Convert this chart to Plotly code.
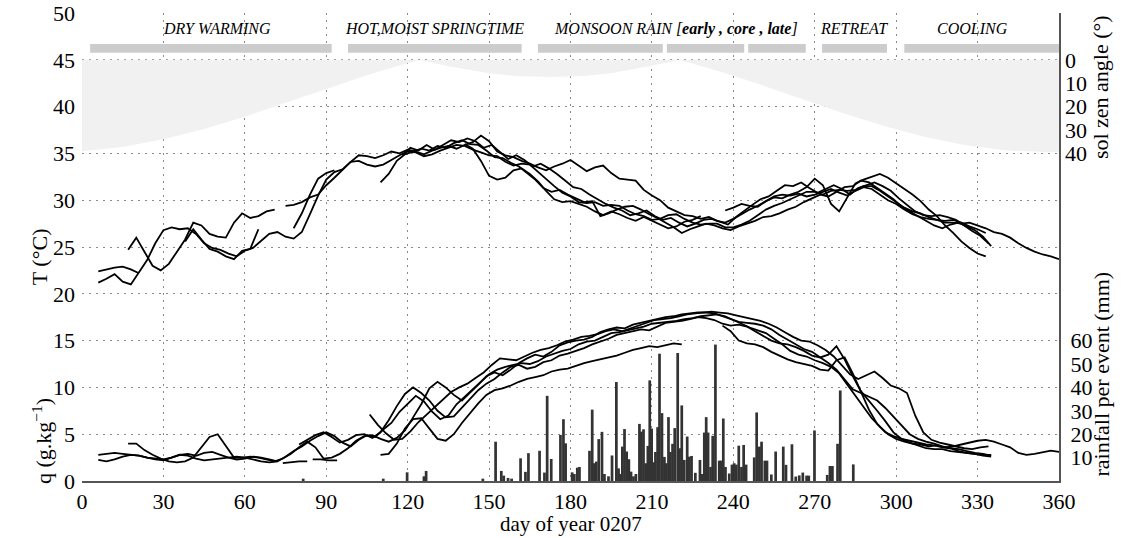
import plotly.graph_objects as go

STEP = 3  # sampling step (days) of the smoothed T and q records

# ---------------- temperature records (deg C), one value every 3 days ----------------
t1_start = 6
t1 = [21.2, 21.6, 22.1, 21.3, 21.0, 22.3, 23.6, 25.4, 26.8, 27.1, 26.9, 27.0, 26.4, 25.4, 24.9, 24.7,
      24.3, 24.0, 24.6, 24.9, 25.7, 26.4, 26.6, 26.1, 25.9, 26.6, 28.5, 30.5, 32.2, 33.0, 33.3, 34.1,
      34.2, 33.8, 33.6, 33.8, 34.3, 34.8, 35.2, 35.1, 34.7, 34.9, 35.3, 35.6, 35.9, 35.8, 35.4, 35.1,
      34.8, 34.7, 34.1, 33.7, 33.9, 33.8, 33.0, 32.3, 31.5, 30.8, 30.4, 29.8, 29.7, 29.8, 29.4, 29.5,
      29.4, 28.9, 28.5, 28.3, 27.9, 28.0, 28.4, 28.5, 28.0, 27.6, 27.4, 27.5, 27.5, 27.1, 27.1, 27.4,
      27.8, 28.4, 29.0, 29.4, 29.7, 30.1, 30.5, 30.9, 30.9, 30.6, 31.0, 31.1, 31.0, 31.1, 31.5, 31.5,
      31.0, 30.4, 29.8, 29.2, 28.8, 28.6, 28.2, 27.9, 27.6, 27.6, 27.5, 27.6, 27.3, 27.0, 26.6, 26.4,
      26.0, 25.4, 24.9, 24.5, 24.2, 24.0, 23.7]
t2_start = 6
t2 = [22.4, 22.6, 22.8, 22.9, 22.6, 22.2]
t3_start = 17
t3 = [24.7, 26.0, 24.5, 23.0, 22.5, 23.2, 24.5, 25.8, 27.6, 27.3, 26.4, 26.1, 26.0, 27.6, 28.6, 28.1,
      28.3, 28.8, 29.0]
t4_start = 38
t4 = [25.6, 26.9, 25.8, 24.8, 24.5, 24.0, 23.7, 24.6, 24.8, 26.9]
t5_start = 75
t5 = [29.4, 29.5, 29.8, 30.3, 30.6, 31.6, 32.4, 33.3, 34.1, 34.8, 34.7, 34.5, 34.8, 35.2, 35.0, 35.4,
      35.2, 34.9, 35.3, 35.6, 35.8, 35.5, 35.9, 36.2, 36.9, 36.3, 35.2, 34.8, 34.6, 34.2, 33.9, 33.5,
      33.2, 33.6, 33.9, 34.3, 33.7, 33.1, 33.5, 33.7, 32.9, 32.3, 32.2, 32.1, 31.1, 30.5, 30.0, 29.2,
      28.8, 28.4, 28.3, 28.0, 28.2, 27.8, 27.6, 28.0, 28.5, 29.0, 29.4, 29.9, 30.3, 30.2, 30.6, 30.9,
      31.4, 32.3, 31.6, 29.6, 28.8, 30.3, 31.8, 32.2, 32.5, 32.8, 32.4, 31.8, 31.2, 30.6, 29.9, 29.0,
      28.3, 27.3, 26.5, 25.6, 24.9, 24.3, 24.0]
t6_start = 78
t6 = [27.0, 28.6, 30.6, 32.3, 32.9, 33.2]
t7_start = 110
t7 = [31.9, 32.8, 34.2, 34.9, 35.2, 35.5, 35.3, 35.8, 35.6, 36.1, 36.4, 36.0, 35.9, 35.3, 34.6, 34.5,
      34.0, 33.6, 32.9, 32.2, 31.3, 30.9, 31.1, 30.6, 30.2, 29.8, 29.9, 28.3, 28.6, 29.0, 29.3, 29.4,
      29.0, 28.5, 28.1, 27.6, 27.1, 26.5, 26.9, 27.2, 27.5, 27.3, 27.0, 26.8, 27.2, 27.5, 27.8, 28.2,
      28.3, 28.6, 29.0, 29.3, 29.8, 30.2, 30.6, 30.4, 30.9, 31.4, 31.5, 32.1, 31.9, 31.3, 30.7, 30.1,
      29.3, 28.8, 28.3, 27.8, 27.3, 27.0, 27.4, 27.6, 27.2, 26.8, 26.1, 25.1]
t8_start = 118
t8 = [34.8, 35.6, 35.3, 35.9, 35.4, 35.9, 36.4, 36.2, 36.6, 36.3, 35.6, 35.9, 35.2, 34.4, 34.8, 34.3,
      33.6, 33.9, 33.4, 32.8, 32.1, 31.4, 31.2, 30.6, 30.1, 29.6, 29.2, 28.9, 28.4, 28.6, 28.9, 28.3,
      27.9, 28.1, 27.6, 27.2, 27.5, 27.9, 28.0, 27.7, 27.4, 28.2, 28.9, 29.5, 30.1, 30.4, 31.0, 31.6,
      31.5, 31.9, 31.3, 30.8, 31.2, 31.6, 31.2, 30.6, 31.3, 31.6, 31.9, 31.5, 31.0, 30.2, 29.5, 28.8,
      28.4, 28.3, 28.4, 28.2, 27.9, 27.3, 26.7, 26.2, 25.4]
t9_start = 141
t9 = [36.0, 35.5, 34.2, 32.6, 32.2, 32.4, 33.2, 33.4, 32.8, 32.0, 31.0, 30.1, 29.8, 29.9, 29.6, 29.3,
      28.8, 28.4, 28.8, 28.5, 28.1, 27.8, 28.2, 27.8, 27.4, 27.0, 27.2, 27.7, 27.9, 28.3]
t10_start = 237
t10 = [28.9, 29.2, 29.6, 29.4, 29.3, 29.9, 30.4, 30.6, 30.5, 30.7, 30.4, 30.6, 30.9, 31.2, 30.8, 30.5,
       31.0, 31.4, 31.2, 30.6, 30.0, 29.6, 29.0, 28.5, 28.2, 28.0, 27.9, 27.8, 27.9, 27.6, 27.2, 26.9,
       26.5]

# ---------------- specific humidity records (g/kg), one value every 3 days ----------------
q1_start = 6
q1 = [2.8, 2.9, 3.0, 2.9, 2.8, 2.7, 2.5, 2.3, 2.2, 2.5, 2.8, 2.7, 2.4, 2.2, 2.3, 2.4, 2.5, 2.6, 2.5,
      2.3, 2.1, 2.0, 2.1, 2.6, 3.2, 3.7, 4.3, 4.8, 5.2, 4.8, 4.1, 3.7, 4.4, 4.9, 4.7, 5.5, 6.2, 7.4,
      8.3, 9.1, 8.5, 7.4, 6.6, 7.0, 8.2, 9.0, 9.8, 10.6, 11.4, 11.9, 12.2, 12.4, 12.6, 12.5, 12.8,
      13.3, 13.6, 13.9, 14.1, 14.6, 14.9, 15.0, 15.4, 15.8, 15.9, 16.1, 16.3, 16.5, 16.8, 16.9, 17.0,
      17.1, 17.3, 17.4, 17.6, 17.7, 17.8, 17.6, 17.2, 16.8, 16.4, 16.1, 15.8, 15.2, 14.6, 13.9, 13.5,
      13.3, 12.9, 12.6, 12.2, 11.5, 10.3, 9.0, 7.8, 6.7, 5.8, 5.0, 4.5, 4.2, 4.0, 3.9, 3.7, 3.8, 3.6,
      3.7, 3.9, 4.1, 4.3, 4.4, 4.2, 3.9, 3.6, 3.0, 2.8, 2.9, 3.1, 3.25, 3.1]
q2_start = 6
q2 = [2.25, 2.1, 2.3, 2.6, 2.8, 2.7, 2.5, 2.4, 2.3, 2.5, 2.8, 2.9, 2.7, 3.0, 3.1, 2.8, 2.5, 2.3,
      2.4, 2.6, 2.5, 2.3, 2.1]
q3_start = 17
q3 = [4.0, 4.0, 3.3, 2.8, 2.4, 2.1, 2.0, 2.1, 2.5, 3.6, 4.7, 5.0, 3.8, 2.5, 2.5, 2.6, 2.5, 2.3, 2.1,
      2.4, 2.9, 3.6, 4.2, 3.6, 2.4, 2.5, 2.9, 3.5, 4.3, 4.8, 4.9, 4.5, 4.2, 4.6, 5.4, 6.8, 8.2, 9.9,
      10.6, 10.0, 9.2, 8.6, 9.4, 10.3, 11.2, 11.6, 11.3, 11.9, 12.6, 13.1, 13.5, 13.3, 13.8, 14.5,
      14.8, 15.0, 15.1, 15.4, 15.9, 16.2, 16.4, 16.3, 16.7, 16.9, 17.1, 17.3, 17.5, 17.6, 17.8, 17.9,
      18.0, 18.0, 17.9, 17.6, 17.3, 17.0, 16.9, 16.8, 16.6, 16.2, 15.6, 15.1, 14.6, 14.1, 13.8, 13.2,
      12.6, 11.9, 10.8, 9.8, 9.4, 9.0, 8.6, 7.8, 6.9, 5.9, 5.0, 4.5, 4.2, 4.0, 3.7, 3.5, 3.4, 3.2,
      3.0, 2.9, 2.7]
q4_start = 74
q4 = [1.9, 2.0, 2.1, 2.1]
q5_start = 85
q5 = [2.3, 2.3, 2.2, 2.2]
q6_start = 80
q6 = [3.9, 4.4, 4.9, 5.2, 4.7, 4.1, 4.4, 4.9, 5.0, 4.6, 5.2, 6.5, 8.0, 9.3, 10.0, 9.4, 8.6, 7.5, 6.8,
      6.9, 7.8, 8.8, 9.7, 10.4, 10.9, 11.6, 12.2, 12.4, 12.0, 12.2, 12.7, 12.9, 13.4, 13.6, 13.9, 14.2,
      14.6, 14.9, 15.2, 15.6, 15.8, 16.0, 16.2, 16.1, 16.5, 16.9, 17.0, 17.1, 17.3, 17.5, 17.4, 17.2,
      16.8, 16.6, 16.7, 16.5, 16.0, 15.5, 15.0, 14.7, 14.6, 14.3, 13.9, 13.4, 13.2, 13.5, 14.4, 13.0,
      11.2, 9.6, 8.6, 7.5, 6.4, 5.2, 4.5, 4.1, 3.8, 3.5, 3.4, 3.4, 3.2, 3.1, 3.0, 2.9, 2.8, 2.8]
q7_start = 106
q7 = [7.1, 6.0, 5.1, 4.4, 4.5, 5.3, 6.3, 7.1, 8.0, 8.8, 9.5, 10.0, 10.4, 11.0, 11.6, 12.4, 13.1, 13.0,
      12.9, 13.3, 13.7, 14.0, 14.2, 14.5, 14.9, 15.1, 15.4, 15.5, 15.7, 16.0, 16.2, 16.0, 16.3, 16.6,
      16.9, 17.2, 17.3, 17.4, 17.6, 17.8, 17.9, 18.0, 18.1, 18.0, 17.9, 17.7, 17.5, 17.3, 17.1, 16.8,
      16.4, 15.9, 15.4, 15.0, 14.9, 14.5, 14.0, 13.3, 12.4, 11.4, 10.9, 11.3, 11.7, 11.0, 10.2, 9.9,
      9.4, 7.0, 5.2, 4.4, 4.1, 3.9, 3.7, 3.5, 3.4, 3.6, 3.7]
q8_start = 110
q8 = [2.8, 2.9, 4.0, 5.6, 6.6, 6.7, 5.6, 4.5, 4.3, 5.0, 6.2, 7.3, 8.3, 9.2, 9.7, 9.9, 10.2, 10.6, 10.9,
      11.1, 11.3, 11.7, 11.9, 12.0, 12.3, 12.6, 12.8, 13.0, 13.2, 13.4, 13.7, 14.0, 14.2, 14.4, 14.3,
      14.5, 14.7, 14.6]
q9_start = 236
q9 = [16.6, 16.0, 15.0, 14.7, 14.6, 14.3, 13.8, 13.4, 13.0, 12.7, 12.5, 12.3, 11.9, 11.8, 12.9, 13.2,
      11.5, 9.5, 7.6, 6.1, 5.2, 4.8, 4.5, 4.3, 4.1, 3.9, 3.8, 3.6, 3.5, 3.2, 3.0, 2.9, 2.7, 2.6]

# ---------------- noon solar zenith angle (deg) ----------------
zen_day = [0, 15, 30, 45, 60, 75, 90, 105, 115, 120, 124.5, 130, 135, 150, 160, 172, 185, 195, 210,
           215, 220, 225, 235, 250, 265, 280, 295, 310, 325, 340, 355, 360]
zen_angle = [39.1, 37.3, 34.0, 29.6, 24.3, 18.4, 12.4, 6.6, 3.1, 1.4, 0.0, 1.5, 2.8, 5.8, 6.9, 7.4,
             6.9, 5.7, 2.7, 1.4, 0.0, 1.6, 5.0, 10.6, 16.6, 22.6, 28.1, 32.8, 36.4, 38.7, 39.4, 39.3]

# ---------------- rainfall per event (mm) ----------------
rain_day = [81.5, 111, 119.8, 126, 126.8, 147.7, 152.4, 154.5, 155.4, 157, 158.3, 161.6, 163.4, 164.5,
            168.6, 170.4, 171.4, 172.9, 176.3, 177.4, 178.2, 180.6, 181.4, 182.5, 183.3, 187, 188,
            188.8, 189.5, 190.4, 191.6, 192.5, 194, 195.3, 196.9, 197.7, 198.4, 199.1, 199.9, 200.7,
            201.5, 202.3, 203.2, 204.1, 205.4, 206.1, 206.9, 207.7, 208.5, 209.2, 209.9, 210.6, 211.3,
            212.1, 212.8, 213.7, 214.6, 215.3, 216.1, 216.8, 217.6, 218.4, 219.5, 220.2, 221, 221.9,
            223, 223.8, 224.6, 226, 227.7, 228.5, 229.3, 230, 230.7, 231.6, 232.4, 233.4, 234.8, 235.5,
            236.3, 237.1, 238.5, 239.5, 240.3, 241.1, 242, 243, 243.8, 244.7, 247.7, 248.6, 249.6,
            250.4, 251.6, 252.4, 254, 255.6, 258.4, 259.4, 261.6, 263, 264.3, 265.6, 267, 267.8, 269.9,
            274.6, 275.6, 276.5, 278.4, 279.4, 284.2]
rain_mm = [1.0, 1.0, 3.7, 2.0, 4.3, 1.0, 16.8, 4.3, 2.3, 1.3, 1.0, 9.7, 3.9, 11.9,
           12.9, 3.6, 36.4, 9.4, 19.7, 26.4, 16.1, 3.7, 3.0, 5.7, 6.0, 12.9, 30.5,
           7.6, 8.3, 17.9, 21.0, 3.0, 2.0, 10.9, 42.3, 5.4, 3.0, 14.7, 22.2, 12.6,
           9.3, 4.0, 2.0, 3.0, 24.4, 21.1, 22.1, 7.6, 15.0, 43.0, 22.4, 8.0, 12.4,
           23.0, 54.4, 29.0, 10.3, 7.6, 27.3, 12.4, 15.9, 22.6, 54.7, 14.0, 32.3, 9.0,
           19.0, 10.4, 10.7, 3.5, 9.0, 3.0, 20.7, 27.3, 20.7, 6.0, 19.3, 58.3, 8.7, 8.7,
           26.7, 6.0, 3.2, 7.0, 7.6, 7.0, 15.1, 6.0, 15.4, 7.0, 10.1, 29.3, 14.7,
           16.8, 8.7, 8.7, 2.8, 12.6, 14.7, 6.9, 15.7, 1.9, 2.4, 3.6, 2.3, 2.3, 21.6,
           2.6, 6.4, 6.4, 15.9, 38.7, 7.1]

# ---------------- seasonal phases (banner) ----------------
phase_start = [3, 98, 168, 215.5, 245.5, 272.7, 303]
phase_end = [92, 162, 214, 244, 266.7, 296.6, 360]
label_day = [49.7, 130, 219, 284.5, 328]
label_text = ["DRY WARMING", "HOT,MOIST SPRINGTIME", "MONSOON RAIN [<b>early , core , late</b>]",
              "RETREAT", "COOLING"]

# ---------------- axes ----------------
x_ticks = [0, 30, 60, 90, 120, 150, 180, 210, 240, 270, 300, 330, 360]
left_ticks = [0, 5, 10, 15, 20, 25, 30, 35, 40, 45, 50]
zen_ticks = [0, 10, 20, 30, 40]
rain_label_ticks = [10, 20, 30, 40, 50, 60]
rain_minor_ticks = [0, 10, 20, 30, 40, 50, 60, 70, 80, 90, 100, 110, 120, 130, 140, 150, 160, 170,
                    180, 190, 200]

FONT = "Liberation Serif"
GRID = "#8a8a8a"
AXIS = "#555555"

fig = go.Figure()

# solar zenith angle shading
fig.add_trace(go.Scatter(x=zen_day, y=[0] * len(zen_day), yaxis="y2", mode="lines",
                         line=dict(width=0, color="#f1f1f1"), hoverinfo="skip"))
fig.add_trace(go.Scatter(x=zen_day, y=zen_angle, yaxis="y2", mode="lines", fill="tonexty",
                         fillcolor="#f1f1f1", line=dict(width=0, color="#f1f1f1"), hoverinfo="skip"))

# rainfall bars
fig.add_trace(go.Bar(x=rain_day, y=rain_mm, yaxis="y3", width=1.0,
                     marker=dict(color="#333333", line=dict(width=0))))

T_SERIES = [(t1_start, t1), (t2_start, t2), (t3_start, t3), (t4_start, t4), (t5_start, t5),
            (t6_start, t6), (t7_start, t7), (t8_start, t8), (t9_start, t9), (t10_start, t10)]
Q_SERIES = [(q1_start, q1), (q2_start, q2), (q3_start, q3), (q4_start, q4), (q5_start, q5),
            (q6_start, q6), (q7_start, q7), (q8_start, q8), (q9_start, q9)]

for start, vals in T_SERIES + Q_SERIES:
    days = [start + STEP * i for i in range(len(vals))]
    fig.add_trace(go.Scatter(x=days, y=vals, yaxis="y", mode="lines",
                             line=dict(color="black", width=1.8)))

# banner bars
shapes = []
for s, e in zip(phase_start, phase_end):
    shapes.append(dict(type="rect", xref="x", yref="y", x0=s, x1=e, y0=45.75, y1=46.7,
                       fillcolor="#cccccc", line=dict(width=0), layer="above"))

annotations = []
for d, txt in zip(label_day, label_text):
    annotations.append(dict(x=d, y=48.3, xref="x", yref="y", text="<i>" + txt + "</i>",
                            showarrow=False, font=dict(family=FONT, size=16, color="black")))

annotations += [
    dict(x=-0.058, y=24.0, xref="paper", yref="y", text="T (°C)", textangle=-90, showarrow=False,
         font=dict(family=FONT, size=22, color="black")),
    dict(x=-0.058, y=4.3, xref="paper", yref="y", text="q (g.kg<sup>−1</sup>)", textangle=-90,
         showarrow=False, font=dict(family=FONT, size=22, color="black")),
    dict(x=1.058, y=42.1, xref="paper", yref="y", text="sol zen angle (°)", textangle=-90,
         showarrow=False, font=dict(family=FONT, size=22, color="black")),
    dict(x=1.058, y=11.4, xref="paper", yref="y", text="rainfall per event (mm)", textangle=-90,
         showarrow=False, font=dict(family=FONT, size=22, color="black")),
    dict(x=0.5, y=0, xref="paper", yref="paper", text="day of year 0207", showarrow=False,
         yanchor="middle", yshift=-43, font=dict(family=FONT, size=21, color="black")),
]

fig.update_layout(
    width=1135, height=538,
    margin=dict(l=82, r=76, t=13, b=57, autoexpand=False),
    paper_bgcolor="white", plot_bgcolor="white",
    showlegend=False,
    font=dict(family=FONT, size=22, color="black"),
    shapes=shapes, annotations=annotations,
    xaxis=dict(range=[0, 360], tickvals=x_ticks, showgrid=True, gridcolor=GRID, gridwidth=1,
               griddash="2px,5px", showline=True, linecolor=AXIS, linewidth=2, ticks="",
               ticklen=0, zeroline=False, ticklabelstandoff=0, automargin=False),
    yaxis=dict(range=[0, 50], tickvals=left_ticks, showgrid=True,
               gridcolor=GRID, gridwidth=1, griddash="2px,5px", zeroline=False, ticks="",
               ticklen=0, showline=False, ticklabelstandoff=6, automargin=False),
    yaxis2=dict(overlaying="y", side="right", anchor="x", range=[180, -20], tickvals=zen_ticks,
                showgrid=False, zeroline=False, ticks="", ticklen=0, ticklabelstandoff=5,
                automargin=False),
    yaxis3=dict(overlaying="y", side="right", anchor="x", range=[0, 200], tickvals=rain_label_ticks,
                showgrid=False, zeroline=False, ticks="", ticklen=0, showline=True, linecolor=AXIS,
                linewidth=2, ticklabelstandoff=5, automargin=False),
    yaxis4=dict(overlaying="y", side="right", anchor="x", range=[0, 200], tickvals=rain_minor_ticks,
                showticklabels=False, showgrid=False, zeroline=False, ticks="inside", ticklen=18,
                tickwidth=1.5, tickcolor=AXIS, automargin=False),
)

fig.write_html("out.html")
